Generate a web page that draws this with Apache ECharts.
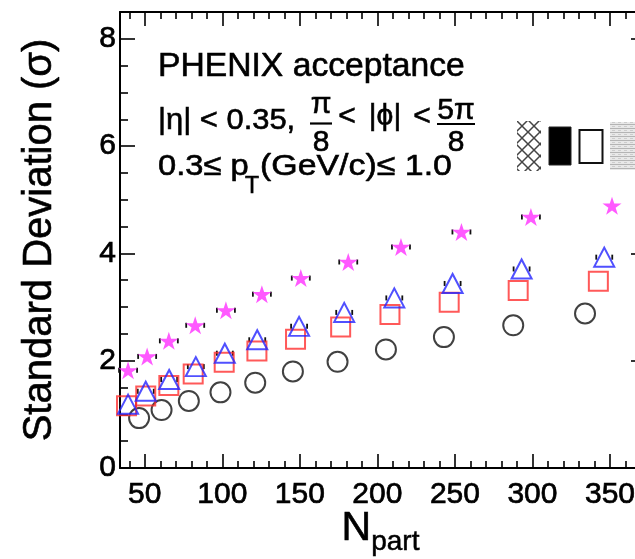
<!DOCTYPE html>
<html>
<head>
<meta charset="utf-8">
<script src="https://cdn.jsdelivr.net/npm/echarts@6/dist/echarts.min.js"></script>
<style>
html,body{margin:0;padding:0;background:#fff;}
#chart{width:635px;height:559px;}
</style>
</head>
<body>
<div id="chart"></div>
<script>
// ---- data ----
const npartCircle = [46.3, 60.8, 78.4, 98.8, 121.2, 145.5, 174.3, 205.5, 242.9, 287.6, 333.9];
const sigmaCircle = [0.93, 1.08, 1.25, 1.41, 1.59, 1.80, 1.98, 2.21, 2.44, 2.66, 2.88];
const npartSquare = [38.2, 50.6, 65.5, 81.2, 101.2, 122.3, 147.2, 176.3, 208.1, 246.3, 290.8, 342.5];
const sigmaSquare = [1.16, 1.34, 1.54, 1.75, 1.97, 2.18, 2.40, 2.63, 2.86, 3.09, 3.31, 3.48];
const npartTriangle = [39.2, 50.6, 65.7, 82.9, 101.6, 122.5, 149.5, 178.6, 210.9, 248.5, 293.0, 346.3];
const sigmaTriangle = [1.19, 1.43, 1.65, 1.89, 2.14, 2.39, 2.64, 2.90, 3.17, 3.44, 3.71, 3.93];
const npartStar = [39.2, 51.5, 65.5, 82.5, 102.3, 125.5, 150.6, 181.2, 215.2, 254.2, 299.0, 351.3];
const sigmaStar = [1.82, 2.08, 2.37, 2.66, 2.94, 3.24, 3.54, 3.84, 4.12, 4.40, 4.68, 4.89];

// ---- ticks ----
const xMajorTicks = [50, 100, 150, 200, 250, 300, 350];
const xMinorTicks = [40, 60, 70, 80, 90, 110, 120, 130, 140, 160, 170, 180, 190, 210, 220, 230, 240, 260, 270, 280, 290, 310, 320, 330, 340, 360];
const yMajorTicks = [0, 2, 4, 6, 8];
const yMinorTicks = [0.5, 1, 1.5, 2.5, 3, 3.5, 4.5, 5, 5.5, 6.5, 7, 7.5];

const X_MIN = 34, X_MAX = 370, Y_MIN = 0, Y_MAX = 8.5;
const FONT = "'Liberation Sans', Arial, Helvetica, sans-serif";

function zip(a, b) { return a.map((v, i) => [v, b[i]]); }

function makePattern(w, h, draw) {
  const c = document.createElement('canvas');
  c.width = w; c.height = h;
  const ctx = c.getContext('2d');
  draw(ctx, w, h);
  return { image: c, repeat: 'repeat' };
}
const crossPattern = makePattern(12, 12, (ctx, w, h) => {
  ctx.fillStyle = '#fff'; ctx.fillRect(0, 0, w, h);
  ctx.strokeStyle = '#444'; ctx.lineWidth = 1.5;
  ctx.beginPath(); ctx.moveTo(0, 0); ctx.lineTo(w, h); ctx.moveTo(w, 0); ctx.lineTo(0, h); ctx.stroke();
});
const grayPattern = makePattern(6, 4, (ctx, w, h) => {
  ctx.fillStyle = '#e8e8e8'; ctx.fillRect(0, 0, w, h);
  ctx.fillStyle = '#b4b4b4'; ctx.fillRect(0, 0, w, 1);
  ctx.fillStyle = '#cccccc'; ctx.fillRect(0, 2, 3, 1);
});

const starPath = 'path://M50,0 L61.2,34.5 L97.6,34.5 L68.2,55.9 L79.4,90.5 L50,69.1 L20.6,90.5 L31.8,55.9 L2.4,34.5 L38.8,34.5 Z';

function capSeries(xs, ys, half) {
  return {
    type: 'custom',
    xAxisIndex: 0, yAxisIndex: 0,
    z: 1,
    silent: true,
    data: zip(xs, ys),
    renderItem: function (params, api) {
      const p = api.coord([api.value(0), api.value(1)]);
      const st = { stroke: '#111', lineWidth: 1.8 };
      return {
        type: 'group',
        children: [
          { type: 'line', shape: { x1: p[0] - half, y1: p[1] - 2.5, x2: p[0] - half, y2: p[1] + 2.5 }, style: st },
          { type: 'line', shape: { x1: p[0] + half, y1: p[1] - 2.5, x2: p[0] + half, y2: p[1] + 2.5 }, style: st }
        ]
      };
    }
  };
}

const labelStyle = { color: '#000', fontSize: 30, fontFamily: FONT, textBorderColor: '#000', textBorderWidth: 0.7 };

function xAxisDef(pos, ticks, len, showLine, showLabel) {
  return {
    type: 'value', position: pos, min: X_MIN, max: X_MAX,
    axisLine: { show: showLine, onZero: false, lineStyle: { color: '#000', width: 2 } },
    axisTick: { show: true, inside: true, length: len, customValues: ticks, lineStyle: { color: '#000', width: 1.6 } },
    axisLabel: showLabel ? Object.assign({ show: true, customValues: ticks, margin: 12, hideOverlap: false }, labelStyle) : { show: false },
    splitLine: { show: false }
  };
}
function yAxisDef(pos, ticks, len, showLine, showLabel) {
  return {
    type: 'value', position: pos, min: Y_MIN, max: Y_MAX,
    axisLine: { show: showLine, onZero: false, lineStyle: { color: '#000', width: 2 } },
    axisTick: { show: true, inside: true, length: len, customValues: ticks, lineStyle: { color: '#000', width: 1.6 } },
    axisLabel: showLabel ? Object.assign({ show: true, customValues: ticks, margin: 4, padding: [4, 0, 0, 0] }, labelStyle) : { show: false },
    splitLine: { show: false }
  };
}

const xAxes = [
  xAxisDef('bottom', xMajorTicks, 14, true, true),
  xAxisDef('bottom', xMinorTicks, 7, false, false),
  xAxisDef('top', xMajorTicks, 14, true, false),
  xAxisDef('top', xMinorTicks, 7, false, false)
];
xAxes[0].name = '{n|N}{s|part}';
xAxes[0].nameLocation = 'middle';
xAxes[0].nameGap = 40;
xAxes[0].nameMoveOverlap = false;
xAxes[0].nameTextStyle = {
  color: '#000', fontFamily: FONT,
  rich: {
    n: { fontSize: 41, lineHeight: 44, verticalAlign: 'top', fontFamily: FONT, color: '#000', textBorderColor: '#000', textBorderWidth: 0.6 },
    s: { fontSize: 28, lineHeight: 44, verticalAlign: 'top', padding: [20, 0, 0, 0], fontFamily: FONT, color: '#000', textBorderColor: '#000', textBorderWidth: 0.5 }
  }
};

const yAxes = [
  yAxisDef('left', yMajorTicks, 15, true, true),
  yAxisDef('left', yMinorTicks, 8, false, false),
  yAxisDef('right', yMajorTicks, 10, false, false),
  yAxisDef('right', yMinorTicks, 5, false, false)
];
yAxes[0].name = 'Standard Deviation (σ)';
yAxes[0].nameLocation = 'middle';
yAxes[0].nameGap = 60;
yAxes[0].nameMoveOverlap = false;
yAxes[0].nameTextStyle = { color: '#000', fontSize: 40, fontFamily: FONT, textBorderColor: '#000', textBorderWidth: 0.6 };

const txt = (x, y, text, size, extra, sx) => ({
  type: 'text', x: x, y: y, z: 10, scaleX: sx || 1,
  style: Object.assign({
    text: text, font: size + 'px ' + FONT, fill: '#000',
    stroke: '#000', lineWidth: 0.6,
    textAlign: 'left', textVerticalAlign: 'middle'
  }, extra || {})
});

const option = {
  animation: false,
  backgroundColor: '#fff',
  grid: { left: 120, top: 12, width: 521, height: 456, containLabel: false, outerBoundsMode: 'none' },
  xAxis: xAxes,
  yAxis: yAxes,
  series: [
    capSeries(npartStar.slice(0, 11), sigmaStar.slice(0, 11), 9),
    capSeries(npartTriangle, sigmaTriangle, 8),
    {
      name: 'circle', type: 'scatter', z: 3, data: zip(npartCircle, sigmaCircle),
      symbol: 'circle', symbolSize: 20,
      itemStyle: { color: 'rgba(0,0,0,0)', borderColor: '#111', borderWidth: 2 }
    },
    {
      name: 'square', type: 'scatter', z: 3, data: zip(npartSquare, sigmaSquare),
      symbol: 'rect', symbolSize: 19,
      itemStyle: { color: 'rgba(0,0,0,0)', borderColor: '#ff3030', borderWidth: 2 }
    },
    {
      name: 'triangle', type: 'scatter', z: 4, data: zip(npartTriangle, sigmaTriangle),
      symbol: 'triangle', symbolSize: [20, 19],
      itemStyle: { color: 'rgba(0,0,0,0)', borderColor: '#2424ff', borderWidth: 2 }
    },
    {
      name: 'star', type: 'scatter', z: 4, data: zip(npartStar, sigmaStar),
      symbol: starPath, symbolSize: [19, 18],
      itemStyle: { color: '#ff30ff', borderWidth: 0 }
    }
  ],
  graphic: [
    txt(158, 67, 'PHENIX acceptance', 33, null, 1.02),
    txt(158, 121, '|η| < 0.35,', 30, null, 1.03),
    txt(321, 105, 'π', 30, { textAlign: 'center' }),
    { type: 'line', z: 10, shape: { x1: 310, y1: 123.5, x2: 332, y2: 123.5 }, style: { stroke: '#000', lineWidth: 2.2 } },
    txt(321, 143, '8', 30, { textAlign: 'center' }),
    txt(347, 117, '<', 30, { textAlign: 'center' }),
    txt(385, 117, '|ϕ|', 30, { textAlign: 'center' }),
    txt(422, 117, '<', 30, { textAlign: 'center' }),
    txt(456, 111, '5π', 30, { textAlign: 'center' }),
    { type: 'line', z: 10, shape: { x1: 437, y1: 124, x2: 475, y2: 124 }, style: { stroke: '#000', lineWidth: 2.2 } },
    txt(456, 143, '8', 30, { textAlign: 'center' }),
    txt(158, 167, '0.3≤ p', 30, null, 1.09),
    txt(245, 187, 'T', 23),
    txt(260, 167, '(GeV/c)≤ 1.0', 30, null, 1.13),
    { type: 'rect', z: 10, shape: { x: 517, y: 121, width: 24, height: 50 }, style: { fill: crossPattern, stroke: null } },
    { type: 'rect', z: 10, shape: { x: 549, y: 127, width: 22, height: 38 }, style: { fill: '#000', stroke: '#222', lineWidth: 1 } },
    { type: 'rect', z: 10, shape: { x: 579.5, y: 130, width: 23, height: 33 }, style: { fill: '#fff', stroke: '#111', lineWidth: 2 } },
    { type: 'rect', z: 10, shape: { x: 610, y: 122, width: 26, height: 48 }, style: { fill: grayPattern, stroke: null } }
  ]
};

const chart = echarts.init(document.getElementById('chart'), null, { renderer: 'canvas' });
chart.setOption(option);
</script>
</body>
</html>
